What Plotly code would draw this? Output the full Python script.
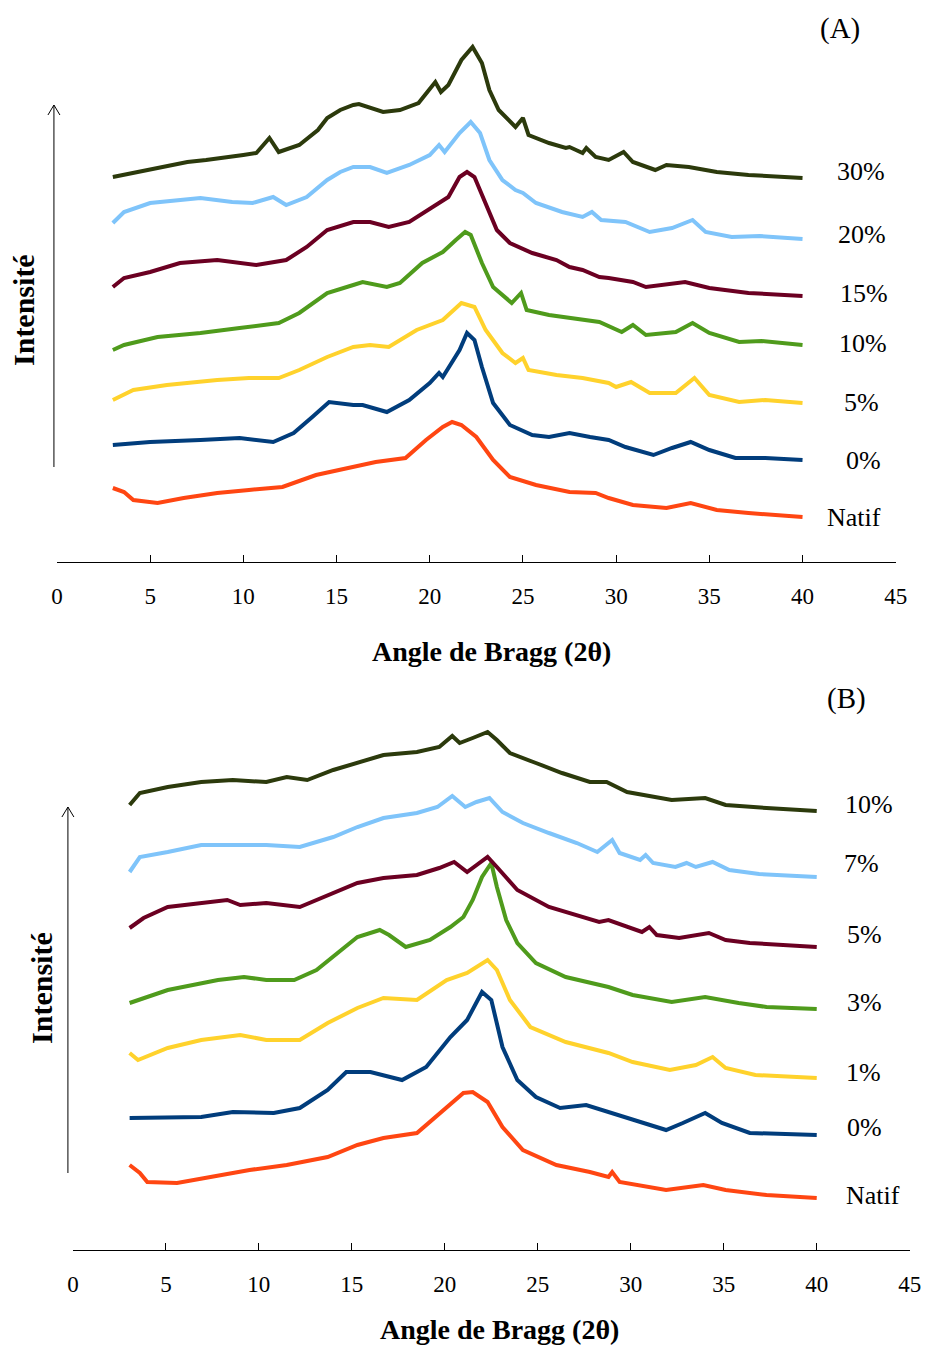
import plotly.graph_objects as go

W, H = 928, 1347
FONT = "Liberation Serif"

# ---------------- Panel (A) : 2theta (deg) and intensity (a.u., offset) ----------------
a30_x = [3, 4, 5, 6, 7, 8, 9, 10, 10.7, 11.4, 11.9, 13, 14, 14.5, 15.2, 15.9, 16.2, 17.5, 18.4, 19.4,
         20.3, 20.6, 21, 21.7, 22.3, 22.8, 23.2, 23.7, 24.6, 25, 25.3, 26.4, 27.3, 27.5, 28.2, 28.4,
         28.9, 29.6, 30.4, 30.9, 32.1, 32.7, 33.9, 35.4, 37.1, 40]
a30_y = [385, 389, 392, 397, 400, 402, 404, 407, 409, 424, 410, 417, 432, 444, 452, 457, 458, 450, 452, 459,
         480, 470, 477, 502, 515, 499, 472, 452, 435, 444, 427, 419, 414, 415, 409, 414,
         405, 402, 410, 400, 392, 397, 395, 390, 387, 384]

a20_x = [3, 3.6, 5, 7.7, 9.4, 10.5, 11.6, 12.3, 13.4, 14.5, 15.2, 15.9, 16.8, 17.7, 18.9, 20, 20.5, 20.8,
         21.6, 22.2, 22.7, 23.2, 23.9, 24.6, 25, 25.7, 27.1, 28.2, 28.7, 29.2, 30.5, 31.8, 33, 34.1,
         34.8, 36.2, 37.7, 40]
a20_y = [339, 350, 359, 364, 360, 359, 365, 357, 365, 382, 390, 395, 395, 389, 397, 407, 417, 410,
         429, 440, 429, 402, 382, 372, 369, 359, 350, 345, 350, 342, 340, 330, 334, 342,
         330, 325, 326, 323]

a15_x = [3, 3.6, 5, 6.6, 8.6, 10.7, 12.3, 13.4, 14.5, 15.9, 16.8, 17.8, 18.9, 20.1, 21, 21.6, 22, 22.4,
         23, 23.6, 24.3, 25.5, 26.8, 27.5, 28.2, 29.1, 29.6, 30.9, 31.6, 33.7, 35, 37.1, 40]
a15_y = [275, 284, 290, 299, 302, 297, 302, 315, 332, 340, 340, 335, 340, 354, 365, 385, 390, 385,
         359, 332, 319, 309, 302, 295, 292, 285, 284, 280, 275, 280, 274, 269, 266]

a10_x = [3, 3.6, 5.4, 7.7, 9.8, 11.9, 13, 14.5, 15.9, 16.4, 17.7, 18.4, 19.6, 20.7, 21.4, 21.9, 22.2,
         22.8, 23.4, 24.4, 24.9, 25.2, 26.4, 28.2, 29.1, 30.3, 30.9, 31.6, 33.2, 34.1, 35, 36.6, 37.8, 40]
a10_y = [212, 217, 225, 229, 234, 239, 249, 269, 277, 280, 275, 279, 299, 310, 322, 330, 327,
         299, 275, 259, 269, 252, 247, 242, 240, 230, 237, 227, 230, 239, 229, 220, 221, 217]

a05_x = [3, 4.1, 5.9, 8.6, 10.3, 11.9, 13, 14.5, 15.9, 16.8, 17.8, 19.3, 20.7, 21.7, 22.4, 23, 23.9,
         24.6, 25, 25.3, 26.8, 28.2, 29.6, 30, 30.8, 31.8, 33.2, 34.2, 35, 36.6, 38, 40]
a05_y = [162, 172, 177, 182, 184, 184, 192, 205, 215, 217, 215, 232, 242, 259, 255, 232, 209,
         199, 204, 192, 187, 184, 179, 175, 180, 169, 169, 184, 167, 160, 162, 159]

a00_x = [3, 5, 7.7, 9.8, 11.6, 12.7, 13.7, 14.6, 15.9, 16.4, 17.7, 18.9, 20, 20.5, 20.7, 21.6, 22, 22.4,
         22.8, 23.4, 24.3, 25.5, 26.4, 27.5, 28.6, 29.6, 30.5, 32, 33, 34, 35, 36.4, 38, 40]
a00_y = [117, 120, 122, 124, 120, 129, 145, 160, 157, 157, 150, 162, 179, 189, 185, 212, 229, 222,
         195, 159, 137, 127, 125, 129, 125, 122, 115, 107, 114, 120, 112, 104, 104, 102]

anat_x = [3, 3.6, 4.1, 5.4, 6.8, 8.6, 10.3, 12.1, 13.9, 15.9, 17.1, 18.7, 19.8, 20.7, 21.2, 21.7, 22.5,
          23.4, 24.3, 25.7, 27.5, 28.9, 29.6, 30.9, 32.7, 34, 35.4, 37.1, 40]
anat_y = [74, 70, 62, 59, 64, 69, 72, 75, 87, 95, 100, 104, 122, 135, 140, 137, 125,
          102, 85, 77, 70, 69, 64, 57, 54, 59, 52, 49, 45]

# ---------------- Panel (B) ----------------
b10_x = [3.05, 3.6, 5.1, 6.9, 8.6, 10.4, 11.5, 12.6, 14, 14.9, 16.7, 18.5, 19.7, 20.4, 20.8, 21.5, 22.3,
         22.8, 23.5, 24.9, 26.3, 27.8, 28.7, 29.8, 32.2, 34, 35.1, 37.3, 40]
b10_y = [444, 456, 462, 467, 469, 467, 472, 469, 479, 484, 494, 497, 502, 513, 506, 511, 517,
         509, 496, 486, 476, 467, 467, 457, 449, 451, 444, 441, 438]

b07_x = [3.05, 3.6, 5.1, 6.9, 8.6, 10.4, 12.2, 14, 15.3, 16.7, 18.5, 19.6, 20.4, 21.1, 21.7, 22.4, 23.1,
         24.2, 25.6, 27.1, 28.2, 29, 29.4, 30.5, 30.8, 31.2, 32.4, 33, 33.5, 34.4, 35.3, 36.9, 40]
b07_y = [377, 392, 397, 404, 404, 404, 402, 412, 422, 431, 436, 442, 453, 442, 447, 451, 437,
         426, 416, 406, 397, 409, 396, 389, 394, 386, 382, 386, 382, 387, 379, 375, 372]

b05_x = [3.05, 3.8, 5.1, 6.9, 8.3, 9, 10.4, 12.2, 14, 15.3, 16.7, 18.5, 19.7, 20.5, 21.2, 21.9, 22.3,
         22.8, 23.9, 25.6, 27.4, 28.3, 28.8, 30.6, 31, 31.4, 32.6, 34.2, 35.1, 36.4, 40]
b05_y = [321, 331, 342, 346, 349, 344, 346, 342, 356, 366, 371, 374, 381, 387, 377, 386, 392,
         382, 359, 342, 332, 327, 329, 317, 322, 314, 311, 316, 309, 306, 302]

b03_x = [3.05, 5.1, 7.8, 9.2, 10.4, 11.9, 13.1, 14.4, 15.3, 16.5, 17, 17.9, 19.2, 20.3, 21, 21.5, 22,
         22.5, 22.8, 23.3, 23.9, 24.9, 26.5, 28.8, 30.1, 32.2, 34, 35.8, 37.3, 40]
b03_y = [246, 259, 269, 272, 269, 269, 279, 299, 312, 319, 314, 302, 309, 322, 332, 349, 372,
         386, 362, 329, 306, 286, 272, 262, 254, 247, 252, 246, 242, 240]

b01_x = [3.05, 3.5, 5.1, 6.9, 9, 10.4, 12.2, 13.7, 15.3, 16.7, 18.5, 20.1, 21.2, 22.3, 22.8, 23.5,
         24.6, 26.5, 28.8, 30.1, 32.1, 33.5, 34.4, 35.1, 36.7, 40]
b01_y = [196, 189, 201, 209, 214, 209, 209, 226, 241, 251, 249, 269, 276, 289, 279, 249,
         222, 207, 196, 187, 179, 184, 192, 181, 174, 171]

b00_x = [3.05, 5.1, 6.9, 8.6, 10.8, 12.2, 13.7, 14.7, 16, 17.7, 19, 20.3, 21.2, 22, 22.5, 23.1, 23.9,
         24.9, 26.2, 27.6, 28.8, 29.9, 31.9, 32.8, 34, 34.9, 36.4, 40]
b00_y = [131, 131, 132, 137, 136, 141, 159, 177, 177, 169, 182, 212, 229, 257, 249, 202, 169,
         152, 141, 144, 137, 131, 119, 126, 136, 126, 116, 114]

bnat_x = [3.05, 3.6, 4, 5.6, 7.4, 9.5, 11.5, 13.7, 15.3, 16.7, 18.5, 19.9, 21, 21.5, 22.3, 23.1, 24.2,
          26, 27.8, 28.8, 29, 29.4, 31.9, 33.9, 35.1, 37.3, 40]
bnat_y = [84, 76, 67, 66, 72, 79, 84, 92, 104, 111, 116, 139, 156, 157, 147, 122, 99,
          84, 77, 72, 77, 67, 59, 64, 59, 54, 51]

x_ticks = [0, 5, 10, 15, 20, 25, 30, 35, 40, 45]

C_OLIVE = "#2c3a0c"
C_LBLUE = "#7fc4fa"
C_MAROON = "#6b0022"
C_GREEN = "#4f9b1c"
C_YELLOW = "#ffd22c"
C_DBLUE = "#013d7c"
C_ORANGE = "#ff4612"

series_A = [
    ("Natif", anat_x, anat_y, C_ORANGE),
    ("0%", a00_x, a00_y, C_DBLUE),
    ("5%", a05_x, a05_y, C_YELLOW),
    ("10%", a10_x, a10_y, C_GREEN),
    ("15%", a15_x, a15_y, C_MAROON),
    ("20%", a20_x, a20_y, C_LBLUE),
    ("30%", a30_x, a30_y, C_OLIVE),
]
series_B = [
    ("Natif", bnat_x, bnat_y, C_ORANGE),
    ("0%", b00_x, b00_y, C_DBLUE),
    ("1%", b01_x, b01_y, C_YELLOW),
    ("3%", b03_x, b03_y, C_GREEN),
    ("5%", b05_x, b05_y, C_MAROON),
    ("7%", b07_x, b07_y, C_LBLUE),
    ("10%", b10_x, b10_y, C_OLIVE),
]

LW = 4
fig = go.Figure()
for name, xs, ys, col in series_A:
    fig.add_trace(go.Scatter(x=xs, y=ys, mode="lines", name=name, xaxis="x", yaxis="y",
                             line=dict(color=col, width=LW), showlegend=False))
for name, xs, ys, col in series_B:
    fig.add_trace(go.Scatter(x=xs, y=ys, mode="lines", name=name, xaxis="x2", yaxis="y2",
                             line=dict(color=col, width=LW), showlegend=False))


def px(x):
    # horizontal page position -> paper fraction (small correction for the capture)
    return ((x - 6) / 0.982) / W


def py(y):
    return 1 - y / H


xaxis_common = dict(range=[0, 45], tickvals=x_ticks, showline=True, linecolor="black", linewidth=1,
                    ticks="inside", ticklen=7, tickwidth=1, tickcolor="black", showgrid=False,
                    zeroline=False, tickfont=dict(family=FONT, size=23, color="black"),
                    ticklabelstandoff=13, fixedrange=True)

fig.update_layout(
    width=W, height=H, autosize=False, margin=dict(l=0, r=0, t=0, b=0),
    paper_bgcolor="white", plot_bgcolor="white",
    xaxis=dict(domain=[px(57), px(897)], anchor="y", **xaxis_common),
    yaxis=dict(domain=[py(562), py(20)], range=[0, 542], visible=False, anchor="x", fixedrange=True),
    xaxis2=dict(domain=[px(73), px(911)], anchor="y2", **xaxis_common),
    yaxis2=dict(domain=[py(1250), py(700)], range=[-1, 549], visible=False, anchor="x2", fixedrange=True),
)

ann = []
lab_font = dict(family=FONT, size=26, color="black")
labels_A = [("30%", 862, 172), ("20%", 863, 235), ("15%", 865, 293), ("10%", 864, 343),
            ("5%", 863, 402), ("0%", 865, 460), ("Natif", 855, 517)]
labels_B = [("10%", 870, 804), ("7%", 863, 863), ("5%", 866, 935), ("3%", 866, 1002),
            ("1%", 865, 1072), ("0%", 866, 1127), ("Natif", 874, 1195)]
for t, x, y in labels_A + labels_B:
    ann.append(dict(text=t, x=px(x), y=py(y), xref="paper", yref="paper", showarrow=False,
                    xanchor="center", yanchor="middle", font=lab_font))

ann.append(dict(text="(A)", x=px(841), y=py(28), xref="paper", yref="paper", showarrow=False,
                xanchor="center", yanchor="middle", font=dict(family=FONT, size=29, color="black")))
ann.append(dict(text="(B)", x=px(848), y=py(698), xref="paper", yref="paper", showarrow=False,
                xanchor="center", yanchor="middle", font=dict(family=FONT, size=29, color="black")))

title_font = dict(family=FONT, size=28, color="black")
ann.append(dict(text="<b>Angle de Bragg (2θ)</b>", x=px(492), y=py(651), xref="paper", yref="paper",
                showarrow=False, xanchor="center", yanchor="middle", font=title_font))
ann.append(dict(text="<b>Angle de Bragg (2θ)</b>", x=px(500), y=py(1329), xref="paper", yref="paper",
                showarrow=False, xanchor="center", yanchor="middle", font=title_font))

ylab_font = dict(family=FONT, size=30, color="black")
ann.append(dict(text="<b>Intensité</b>", x=px(23), y=py(310), xref="paper", yref="paper",
                showarrow=False, xanchor="center", yanchor="middle", textangle=-90, font=ylab_font))
ann.append(dict(text="<b>Intensité</b>", x=px(41), y=py(988), xref="paper", yref="paper",
                showarrow=False, xanchor="center", yanchor="middle", textangle=-90, font=ylab_font))

fig.update_layout(annotations=ann)

# intensity arrows (decorative)
shapes = []
for ax_x, y0, y1 in [(54, 467, 105), (68, 1173, 807)]:
    shapes.append(dict(type="line", xref="paper", yref="paper", x0=px(ax_x), x1=px(ax_x),
                       y0=py(y0), y1=py(y1), line=dict(color="black", width=1)))
    path = "M {a},{b} L {c},{d} L {e},{f}".format(a=px(ax_x - 6), b=py(y1 + 10), c=px(ax_x), d=py(y1),
                                                   e=px(ax_x + 6), f=py(y1 + 10))
    shapes.append(dict(type="path", xref="paper", yref="paper", path=path,
                       line=dict(color="black", width=1)))
fig.update_layout(shapes=shapes)

fig.write_html(
    "out.html",
    config={"responsive": False, "displayModeBar": False},
    post_script=("document.documentElement.style.margin='0';document.body.style.margin='0';"
                 "document.documentElement.style.overflow='hidden';document.body.style.overflow='hidden';"),
)
